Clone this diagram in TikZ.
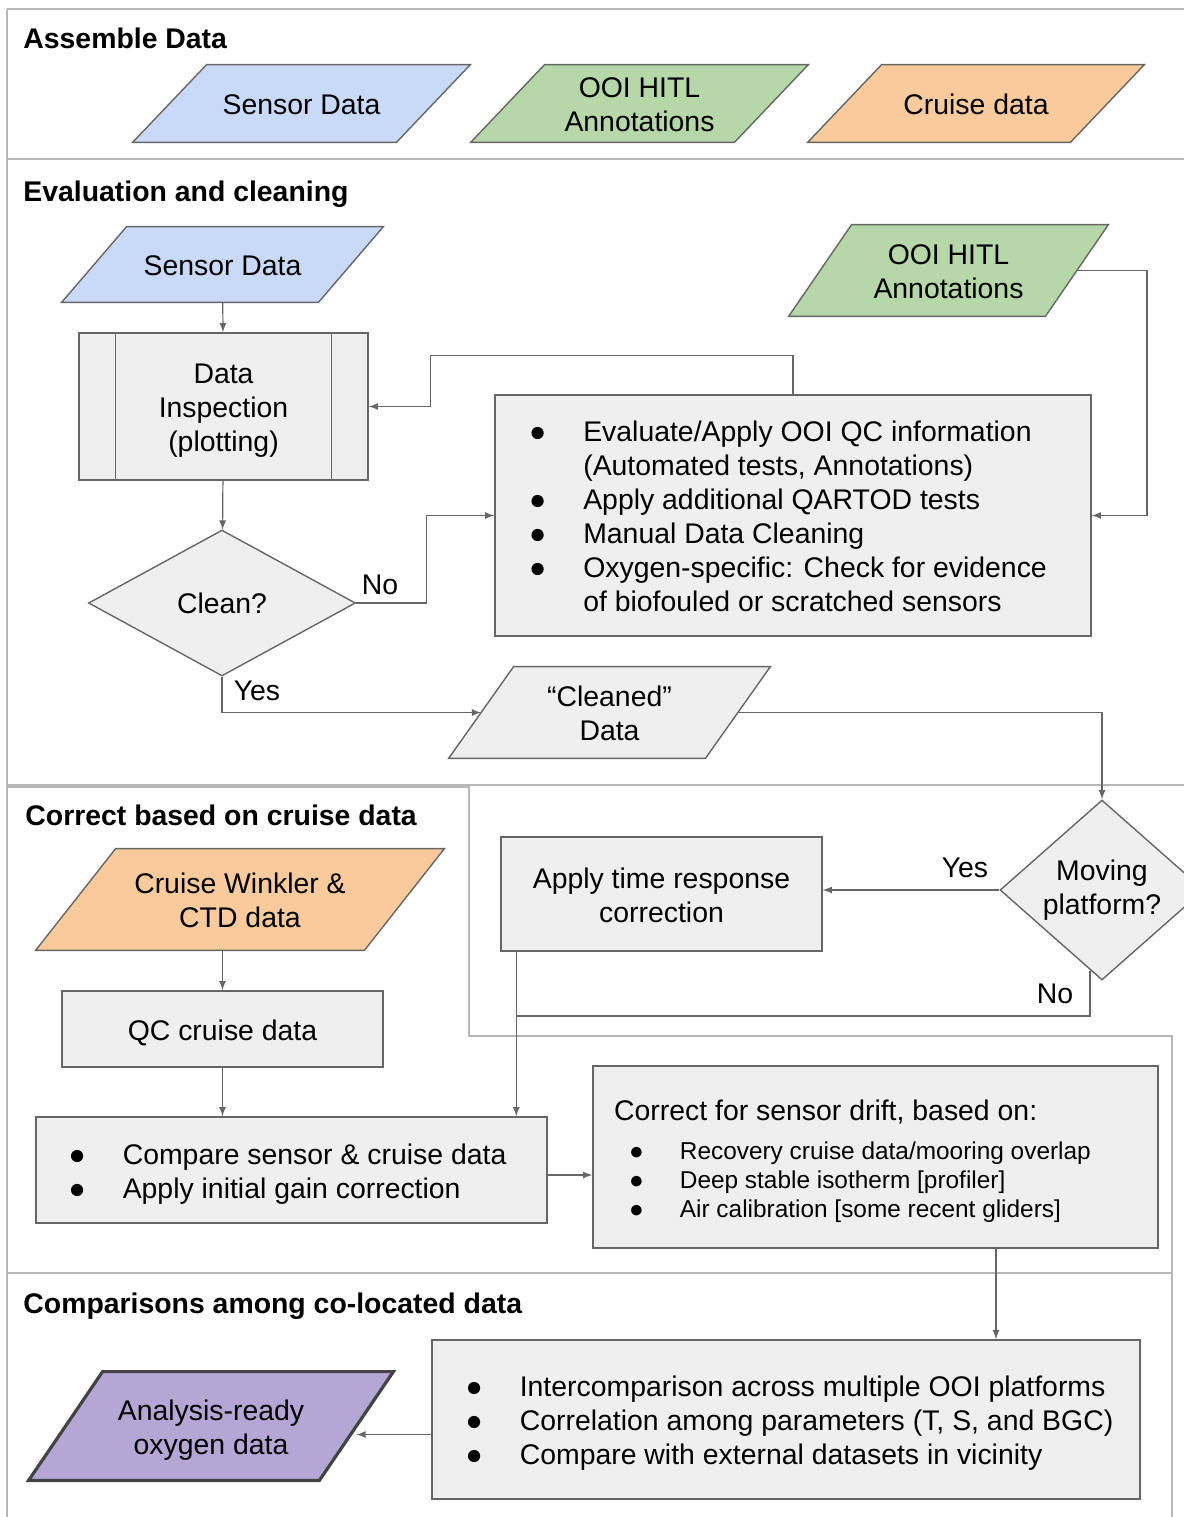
\documentclass[tikz,border=0pt]{standalone}
\usepackage{fontspec}
\setmainfont{Liberation Sans}
\usetikzlibrary{shapes.geometric,backgrounds}

\definecolor{sensorblue}{HTML}{C9DAF8}
\definecolor{hitlgreen}{HTML}{B6D7A8}
\definecolor{cruiseorange}{HTML}{F9CB9C}
\definecolor{readypurple}{HTML}{B4A7D6}
\definecolor{boxgray}{HTML}{EFEFEF}
\definecolor{edgegray}{HTML}{666666}
\definecolor{darkedge}{HTML}{434343}
\definecolor{framegray}{HTML}{B7B7B7}

\newcommand{\bul}{●}
\newcommand{\toprow}{\rule{0pt}{16.3pt}}
\newcommand{\lines}[1]{\begin{tabular}{@{}c@{}}\toprow#1\end{tabular}}
% parallelogram round a data node: name, half slant, style
\newcommand{\slantbox}[3]{\draw[#3] ([xshift=-#2]#1.south west) -- ([xshift=#2]#1.north west)
  -- ([xshift=#2]#1.north east) -- ([xshift=-#2]#1.south east) -- cycle;}

\tikzset{
  every node/.style={font=\fontsize{14.2}{17}\selectfont},
  databox/.style={rectangle, align=center, inner sep=0pt},
  slantline/.style={draw=edgegray, line width=0.7pt},
  stepbox/.style={rectangle, draw=edgegray, fill=boxgray, line width=0.7pt, align=center, inner sep=0pt},
  choice/.style={diamond, draw=edgegray, fill=boxgray, line width=0.7pt, align=center, inner sep=0pt},
  flow/.style={draw=edgegray, line width=0.6pt, ->, >=latex},
  frame/.style={draw=framegray, line width=0.8pt},
  title/.style={anchor=base west, inner sep=0pt, font=\fontsize{14.2}{17}\selectfont\bfseries},
}

\begin{document}
\begin{tikzpicture}[x=0.5pt,y=-0.5pt]
\useasboundingbox (0,0) rectangle (1184,1517);
\clip (0,0) rectangle (1184,1517);

% Frame
\draw[frame] (7,9) -- (1184,9);
\draw[frame] (7,9) -- (7,1517);
\draw[frame] (7,159) -- (1184,159);
\draw[frame] (7,785) -- (1184,785);
\draw[frame] (7,787) -- (469,787) -- (469,1036) -- (1172,1036) -- (1172,1517);
\draw[frame] (7,1273) -- (1172,1273);

% Assemble data
\node[title] (t1) at (23,48) {Assemble Data};
\node[databox, minimum width=131.5pt, minimum height=38.5pt] (sensA) at (301.5,103.5) {\lines{Sensor Data}};
\node[databox, minimum width=131.5pt, minimum height=38.5pt] (hitlA) at (639.5,103.5) {\lines{OOI HITL\\Annotations}};
\node[databox, minimum width=131pt, minimum height=38.5pt] (cruiseA) at (976,103.5) {\lines{Cruise data}};

% Evaluation and cleaning
\node[title] (t2) at (23,201) {Evaluation and cleaning};
\node[databox, minimum width=128pt, minimum height=37.5pt] (sensB) at (222.5,264.5) {\lines{Sensor Data}};
\node[databox, minimum width=128pt, minimum height=45.5pt] (hitlB) at (948.5,270.5) {\lines{OOI HITL\\Annotations}};
\node[stepbox, minimum width=144.5pt, minimum height=73.5pt] (insp) at (223.5,406.5) {\lines{Data\\Inspection\\(plotting)}};
\draw[edgegray, line width=0.7pt] ([xshift=18.5pt]insp.north west) -- ([xshift=18.5pt]insp.south west);
\draw[edgegray, line width=0.7pt] ([xshift=-18.5pt]insp.north east) -- ([xshift=-18.5pt]insp.south east);
\node[stepbox, minimum width=298pt, minimum height=120.5pt] (eval) at (793,515.5) {%
  \begin{tabular}{@{}l@{\hspace{18.5pt}}l@{\hspace{5pt}}}
  \toprow\bul & Evaluate/Apply OOI QC information\\
       & (Automated tests, Annotations)\\
  \bul & Apply additional QARTOD tests\\
  \bul & Manual Data Cleaning\\
  \bul & Oxygen-specific: Check for evidence\\
       & of biofouled or scratched sensors
  \end{tabular}};
\node[choice, minimum width=133.5pt, minimum height=73pt, aspect=1.83] (clean) at (222,603) {Clean?};
\node[databox, minimum width=128pt, minimum height=45.5pt] (cleaned) at (609.5,712.5) {\lines{“Cleaned”\\Data}};
\node (no1) at (380,585) {No};
\node (yes1) at (257,691) {Yes};

\draw[flow] (sensB) -- (insp);
\draw[flow] (insp) -- (clean);
\draw[flow] (clean.east) -- ++(35pt,0) |- (eval.west);
\draw[flow] (clean.south) |- (cleaned.west);
\draw[flow] (eval.north) -- ++(0,19.5pt) -| ([xshift=31pt]insp.east) -- (insp.east);
\draw[flow] (hitlB.east) -- ++(35pt,0) |- (eval.east);

% Correct based on cruise data
\node[title] (t3) at (25,825) {Correct based on cruise data};
\node[choice, minimum width=102pt, minimum height=90pt, aspect=1.13] (mov) at (1102,890) {Moving\\platform?};
\node[stepbox, minimum width=160.5pt, minimum height=57pt] (apply) at (661.5,894) {\lines{Apply time response\\correction}};
\node[databox, minimum width=164pt, minimum height=50.5pt] (cw) at (240,899.5) {\lines{Cruise Winkler \&\\CTD data}};
\node[stepbox, minimum width=160.5pt, minimum height=38pt] (qc) at (222.5,1029) {\lines{QC cruise data}};
\node[stepbox, minimum width=255.5pt, minimum height=53pt] (compare) at (291.5,1170) {%
  \begin{tabular}{@{}l@{\hspace{18.5pt}}l@{\hspace{4pt}}}
  \toprow\bul & Compare sensor \& cruise data\\
  \bul & Apply initial gain correction
  \end{tabular}};
\node[stepbox, minimum width=282.5pt, minimum height=91pt] (drift) at (875.5,1157) {%
  \begin{tabular}{@{}l@{\hspace{23pt}}}
  \toprow Correct for sensor drift, based on:\\[2.8pt]
  \fontsize{12.2}{14.5}\selectfont
  \begin{tabular}[t]{@{\hspace{7.5pt}}l@{\hspace{18pt}}l@{}}
  \bul & Recovery cruise data/mooring overlap\\
  \bul & Deep stable isotherm [profiler]\\
  \bul & Air calibration [some recent gliders]
  \end{tabular}
  \end{tabular}};
\node (yes2) at (965,868) {Yes};
\node (no2) at (1055,994) {No};
\coordinate (merge) at (517,1016);

\draw[flow] (cleaned.east) -| (mov.north);
\draw[flow] (mov.west) -- (mov.west -| apply.east);
\draw[edgegray, line width=0.6pt] ([xshift=-6pt,yshift=5pt]mov.south) |- (merge);
\draw[flow] ([xshift=8pt]apply.south west) -- ([xshift=8pt]apply.south west |- compare.north);
\draw[flow] (qc.north |- cw.south) -- (qc.north);
\draw[flow] (qc.south) -- (qc.south |- compare.north);
\draw[flow] ([yshift=-2.5pt]compare.east) -- ([yshift=-2.5pt]compare.east -| drift.west);

% Comparisons among co-located data
\node[title] (t4) at (23,1313) {Comparisons among co-located data};
\node[stepbox, minimum width=354pt, minimum height=79.5pt] (inter) at (786,1419.5) {%
  \begin{tabular}{@{\hspace{3.5pt}}l@{\hspace{18.5pt}}l@{}}
  \toprow\bul & Intercomparison across multiple OOI platforms\\
  \bul & Correlation among parameters (T, S, and BGC)\\
  \bul & Compare with external datasets in vicinity
  \end{tabular}};
\node[databox, minimum width=145pt, minimum height=54pt] (ard) at (211,1426) {\lines{Analysis-ready\\oxygen data}};

\draw[flow] ([xshift=60.25pt]drift.south) -- ([xshift=60.25pt]drift.south |- inter.north);
\draw[flow] ([yshift=-7.5pt]inter.west) -- ([yshift=-7.5pt]inter.west -| ard.east);

% Parallelograms behind the data nodes
\begin{pgfonlayer}{background}
\slantbox{sensA}{18.5pt}{slantline, fill=sensorblue}
\slantbox{hitlA}{18.5pt}{slantline, fill=hitlgreen}
\slantbox{cruiseA}{18.5pt}{slantline, fill=cruiseorange}
\slantbox{sensB}{16.25pt}{slantline, fill=sensorblue}
\slantbox{hitlB}{15.75pt}{slantline, fill=hitlgreen}
\slantbox{cleaned}{16.25pt}{slantline, fill=boxgray}
\slantbox{cw}{20pt}{slantline, fill=cruiseorange}
\slantbox{ard}{18.5pt}{draw=darkedge, line width=1.6pt, fill=readypurple}
\end{pgfonlayer}
\end{tikzpicture}
\end{document}
